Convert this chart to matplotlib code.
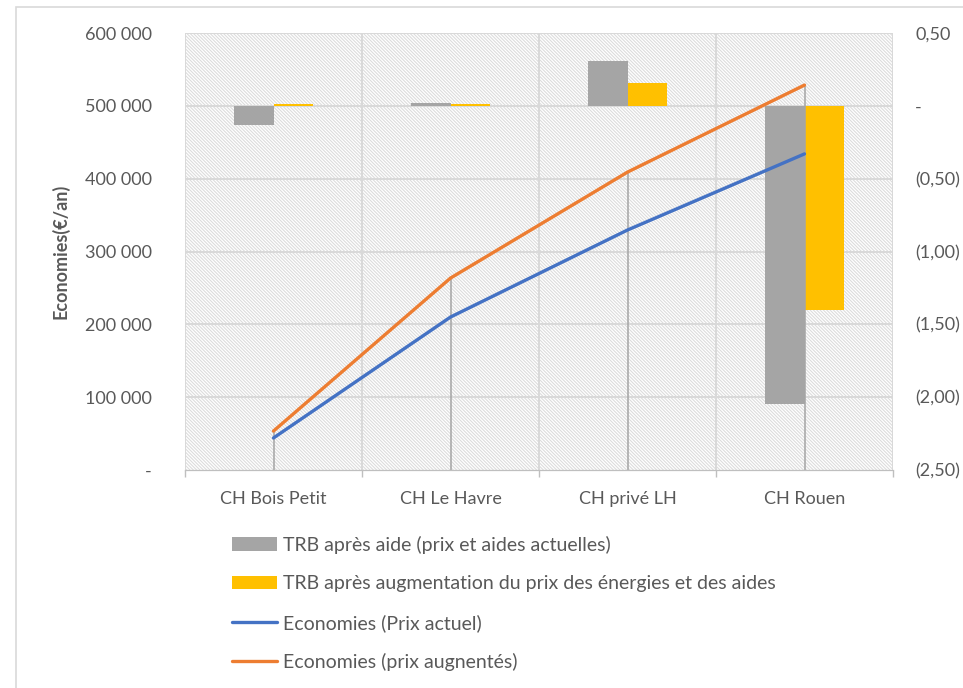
import matplotlib.pyplot as plt
import numpy as np
from matplotlib.patches import Rectangle
from matplotlib.ticker import FuncFormatter

# Sites
sites = ["CH Bois Petit", "CH Le Havre", "CH privé LH", "CH Rouen"]

# Savings (€/an), left axis
eco_actuel = [44000, 210000, 329500, 434000]
eco_augmente = [53500, 263500, 409000, 528500]

# Return on investment, right axis
trb_aide = [-0.13, 0.02, 0.31, -2.05]
trb_augmentation = [0.01, 0.01, 0.16, -1.40]

labels = [
    "TRB après aide (prix et aides actuelles)",
    "TRB après augmentation du prix des énergies et des aides",
    "Economies (Prix actuel)",
    "Economies (prix augnentés)",
]

GREY = "#A5A5A5"
YELLOW = "#FFC000"
BLUE = "#4472C4"
ORANGE = "#ED7D31"
TEXT = "#595959"
GRID = "#D9D9D9"

plt.rcParams["font.family"] = ["Lato", "DejaVu Sans"]
plt.rcParams["font.size"] = 13
plt.rcParams["hatch.linewidth"] = 0.8

fig = plt.figure(figsize=(9.63, 6.88), dpi=100)
ax2 = fig.add_axes([185 / 963, 1 - 470 / 688, 708 / 963, 437 / 688])
ax = ax2.twinx()

# plotting order: bars below, lines above
ax2.set_zorder(1)
ax.set_zorder(2)
ax.patch.set_visible(False)

x = np.arange(len(sites))
w = 0.223

# hatched plot background
ax2.patch.set_visible(False)
ax2.add_patch(Rectangle((0, 0), 1, 1, transform=ax2.transAxes, facecolor="white",
                        edgecolor="#DCDCDC", hatch="\\" * 10, linewidth=0, zorder=-5))

ax2.bar(x - w / 2, trb_aide, w, color=GREY, zorder=2, label=labels[0])
ax2.bar(x + w / 2, trb_augmentation, w, color=YELLOW, zorder=2, label=labels[1])
ax2.set_ylim(-2.5, 0.5)
ax2.set_xlim(-0.5, len(sites) - 0.5)

# grid: horizontal at each tick, vertical at category boundaries
for yv in np.arange(-2.0, 0.51, 0.5):
    ax2.axhline(yv, color=GRID, lw=1.4, zorder=0)
for xv in np.arange(-0.5, len(sites), 1.0):
    ax2.axvline(xv, color=GRID, lw=1.4, zorder=0)

# drop lines from the top line point to the axis
top = np.maximum(eco_actuel, eco_augmente)
ax.vlines(x, 0, top, color=GREY, lw=1.1, zorder=1)
ax.plot(x, eco_actuel, color=BLUE, lw=2.4, solid_capstyle="round", zorder=3, label=labels[2])
ax.plot(x, eco_augmente, color=ORANGE, lw=2.4, solid_capstyle="round", zorder=3, label=labels[3])
ax.set_ylim(0, 600000)

# left / right sides swapped so the lines sit on the left scale
ax.yaxis.tick_left()
ax.yaxis.set_label_position("left")
ax2.yaxis.tick_right()


def fmt_left(v, pos):
    if abs(v) < 1e-9:
        return "-"
    return f"{int(v):,}".replace(",", " ")


def fmt_right(v, pos):
    if abs(v) < 1e-9:
        return "-"
    s = f"{abs(v):.2f}".replace(".", ",")
    return f"({s})" if v < 0 else s


ax.set_yticks(np.arange(0, 600001, 100000))
ax.yaxis.set_major_formatter(FuncFormatter(fmt_left))
ax2.set_yticks(np.arange(-2.5, 0.51, 0.5))
ax2.yaxis.set_major_formatter(FuncFormatter(fmt_right))
ax.tick_params(axis="y", length=0, pad=24, colors=TEXT)
ax2.tick_params(axis="y", length=0, pad=16, colors=TEXT)

ax2.set_xticks(np.arange(-0.5, len(sites), 1.0))
ax2.set_xticklabels([])
ax2.set_xticks(x, minor=True)
ax2.set_xticklabels(sites, minor=True)
ax2.tick_params(axis="x", which="major", length=5, color="#BFBFBF", width=1)
ax2.tick_params(axis="x", which="minor", length=0, pad=15, colors=TEXT)

ax.set_ylabel("Economies(€/an)", color=TEXT, fontweight="bold")
ax.yaxis.set_label_coords(-0.163, 0.5)

for a in (ax, ax2):
    for side in ("left", "right", "top"):
        a.spines[side].set_visible(False)
    a.spines["bottom"].set_color("#BFBFBF")

# chart frame
fig.patches.append(Rectangle((16 / 963, -0.1), 1.2, 1.1 - 7 / 688, transform=fig.transFigure,
                             fill=False, edgecolor=GRID, lw=1.2))

h2, l2 = ax2.get_legend_handles_labels()
h1, l1 = ax.get_legend_handles_labels()
leg = fig.legend(h2 + h1, l2 + l1, loc="upper left", bbox_to_anchor=(232 / 963, 1 - 536 / 688),
                 frameon=False, fontsize=14, handlelength=2.3, handleheight=0.7, handletextpad=0.3,
                 labelspacing=1.1, labelcolor=TEXT, borderaxespad=0, borderpad=0)

fig.savefig("out.png", dpi=100)
